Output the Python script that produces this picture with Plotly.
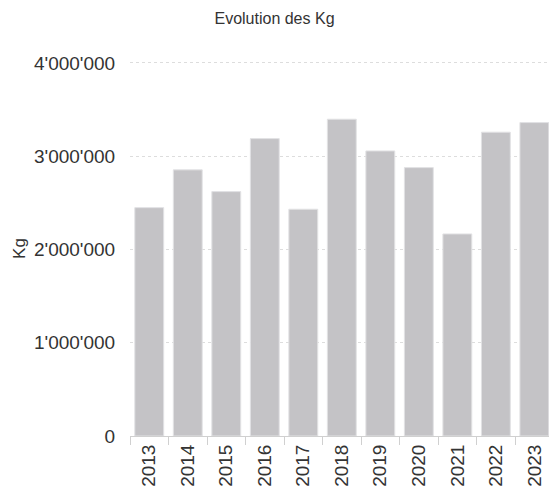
import plotly.graph_objects as go

years = ["2013", "2014", "2015", "2016", "2017", "2018", "2019", "2020", "2021", "2022", "2023"]
kg = [2448000, 2853000, 2620000, 3188000, 2431000, 3396000, 3056000, 2877000, 2166000, 3257000, 3360000]
y_ticks = [0, 1000000, 2000000, 3000000, 4000000]

fig = go.Figure()

fig.add_trace(go.Bar(
    x=years,
    y=kg,
    marker=dict(color="#c4c3c6", line=dict(color="#e2e2e4", width=1)),
))

fig.update_layout(
    width=549,
    height=493,
    template="none",
    paper_bgcolor="white",
    plot_bgcolor="white",
    separators=".'",
    font=dict(family="Liberation Sans, Arial, sans-serif", color="#333333"),
    title=dict(text="Evolution des Kg", x=0.5, xanchor="center", y=0.963, yanchor="middle",
               font=dict(size=16, color="#333333")),
    margin=dict(l=130, r=0, t=61, b=57, autoexpand=False),
    bargap=0.25,
    showlegend=False,
)

fig.update_xaxes(
    type="category",
    range=[-0.5, 10.38],
    tickangle=-90,
    tickfont=dict(size=19, color="#333333"),
    ticks="outside",
    tickson="boundaries",
    ticklen=8,
    tickcolor="#d0d0d0",
    showline=True,
    linecolor="#d0d0d0",
    linewidth=1,
    showgrid=False,
    zeroline=False,
    automargin=False,
)

fig.update_yaxes(
    range=[0, 4020000],
    tickvals=y_ticks,
    tickformat=",d",
    tickfont=dict(size=19, color="#333333"),
    ticks="outside",
    ticklen=10,
    tickcolor="rgba(0,0,0,0)",
    showgrid=True,
    gridcolor="#dddddd",
    griddash="dot",
    gridwidth=1,
    zeroline=False,
    showline=False,
    automargin=False,
    title=dict(text="Kg", font=dict(size=17, color="#333333"), standoff=4),
)

fig.write_html("out.html", config={"displayModeBar": False},
               post_script="document.body.style.margin='0';")
